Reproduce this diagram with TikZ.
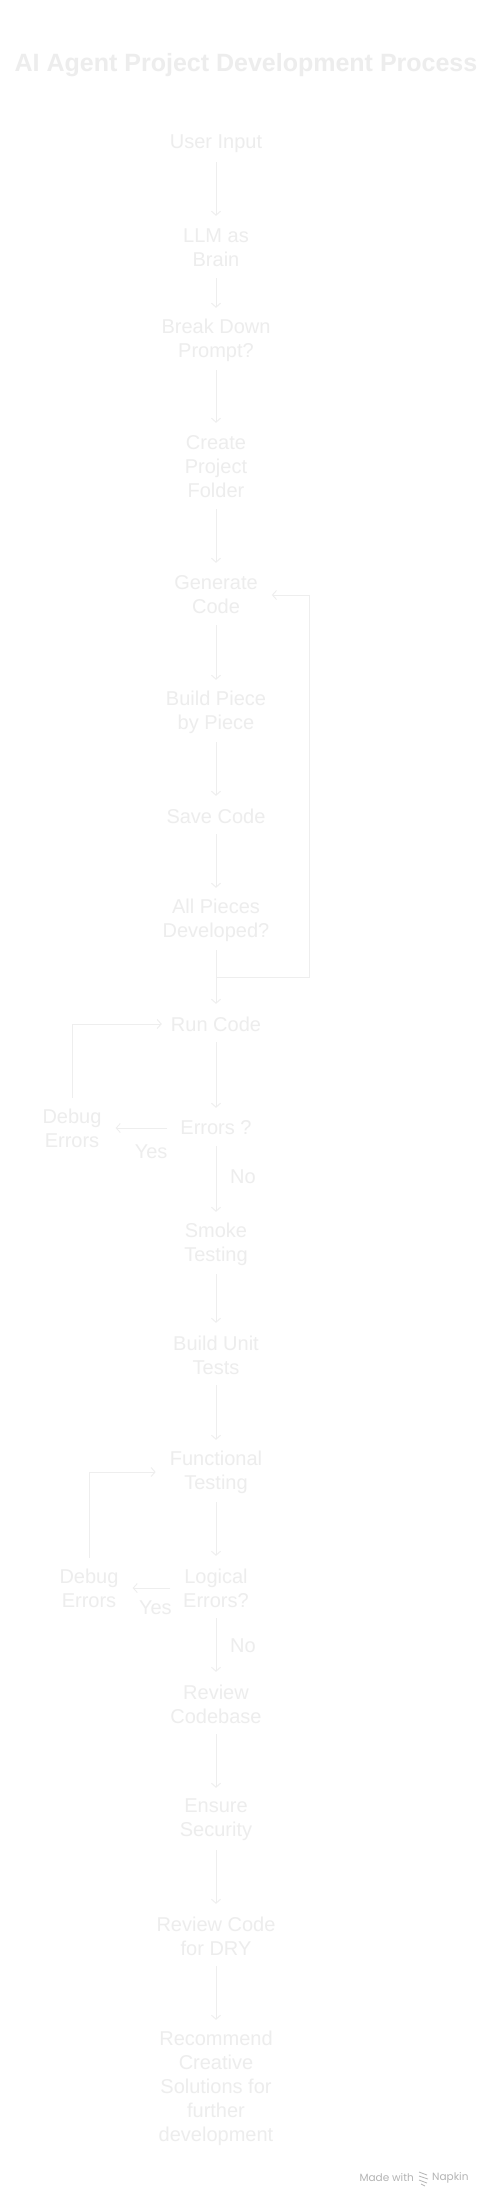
\documentclass[tikz,border=0pt]{standalone}
\usepackage{fontspec}
\setmainfont{Liberation Sans}
\newfontfamily\brandfont{Poppins}
\usetikzlibrary{arrows.meta}
\definecolor{napText}{HTML}{EDEDED}
\definecolor{napLine}{HTML}{EEEEEE}
\definecolor{napBrand}{HTML}{B4B4B4}
\begin{document}
\begin{tikzpicture}
[x=1pt,y=-1pt,
stage/.style={font=\fontsize{20}{24}\selectfont,text=napText,align=center,inner sep=0pt,minimum height=#1*24pt},
stage/.default=1,
lbl/.style={font=\fontsize{20}{24}\selectfont,text=napText,inner sep=0pt},
flow/.style={draw=napLine,line width=0.9pt,-{Straight Barb[length=4pt,width=9pt]},shorten <=6pt,shorten >=8pt},
side/.style={flow,shorten <=13pt,shorten >=14pt}]
\path[fill=white,use as bounding box] (0,0) rectangle (492,2206);
\node[font=\bfseries\fontsize{25}{30}\selectfont,text=napText,inner sep=0pt] (title) at (246,65) {AI Agent Project Development Process};
% main column
\node[stage] (user) at (216,144) {User Input};
\node[stage=2] (llm) at (216,248) {LLM as\\Brain};
\node[stage=2] (brk) at (216,340) {Break Down\\Prompt?};
\node[stage=3] (folder) at (216,467) {Create\\Project\\Folder};
\node[stage=2] (gen) at (216,595) {Generate\\Code};
\node[stage=2] (piece) at (216,712) {Build Piece\\by Piece};
\node[stage] (save) at (216,816) {Save Code};
\node[stage=2] (allp) at (216,920) {All Pieces\\Developed?};
\node[stage] (run) at (216,1024) {Run Code};
\node[stage] (err) at (216,1128) {Errors ?};
\node[stage=2] (dbgA) at (72,1128) {Debug\\Errors};
\node[stage=2] (smoke) at (216,1244) {Smoke\\Testing};
\node[stage=2] (unit) at (216,1355) {Build Unit\\Tests};
\node[stage=2] (func) at (216,1472) {Functional\\Testing};
\node[stage=2] (logic) at (216,1588) {Logical\\Errors?};
\node[stage=2] (dbgB) at (89,1588) {Debug\\Errors};
\node[stage=2] (review) at (216,1704) {Review\\Codebase};
\node[stage=2] (secure) at (216,1820) {Ensure\\Security};
\node[stage=2] (dry) at (216,1936) {Review Code\\for DRY};
\node[stage=5] (ideas) at (216,2088) {Recommend\\Creative\\Solutions for\\further\\development};
\coordinate (back) at (309,977);
\draw[flow] (user) -- (llm);
\draw[flow] (llm) -- (brk);
\draw[flow] (brk) -- (folder);
\draw[flow] (folder) -- (gen);
\draw[flow] (gen) -- (piece);
\draw[flow] (piece) -- (save);
\draw[flow] (save) -- (allp);
\draw[flow] (allp) -- (run);
\draw[flow,shorten >=14pt] (allp.south) |- (back) |- (gen.east);
\draw[flow] (run) -- (err);
\draw[side] (err) -- node[lbl,pos=0.37,yshift=-24pt] (yesA) {Yes} (dbgA);
\draw[flow,shorten >=9pt] (dbgA.north) |- (run.west);
\draw[flow] (err) -- node[lbl,pos=0.46,xshift=27pt] (noA) {No} (smoke);
\draw[flow] (smoke) -- (unit);
\draw[flow] (unit) -- (func);
\draw[flow] (func) -- (logic);
\draw[side] (logic) -- node[lbl,pos=0.43,yshift=-20pt] (yesB) {Yes} (dbgB);
\draw[flow,shorten >=14pt] (dbgB.north) |- (func.west);
\draw[flow] (logic) -- node[lbl,pos=0.49,xshift=27pt] (noB) {No} (review);
\draw[flow] (review) -- (secure);
\draw[flow] (secure) -- (dry);
\draw[flow] (dry) -- (ideas);
% footer
\node[font=\brandfont\fontsize{10.5}{12}\selectfont,text=napBrand,inner sep=0pt,anchor=east] (made) at (414,2178) {Made with};
\node[font=\brandfont\fontsize{10.5}{12}\selectfont,text=napBrand,inner sep=0pt,anchor=west] (napkin) at (432,2178) {Napkin};
\draw[napBrand,line width=0.8pt] (419,2172) -- (427,2175) (419,2176) -- (428,2179) (419,2180) -- (427,2183) (421,2184) -- (425,2186);
\end{tikzpicture}
\end{document}
